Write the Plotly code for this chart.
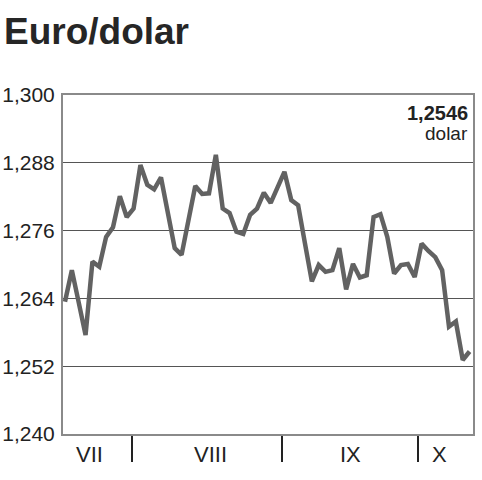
import plotly.graph_objects as go

# Daily euro/dollar rate (trading day index 0..59)
days = list(range(60))
rate = [1.2634, 1.2690, 1.2633, 1.2575, 1.2705, 1.2696, 1.2749, 1.2766, 1.2821, 1.2784,
        1.2799, 1.2876, 1.2841, 1.2833, 1.2854, 1.2792, 1.2729, 1.2717, 1.2778, 1.2839,
        1.2825, 1.2826, 1.2894, 1.2799, 1.2791, 1.2758, 1.2754, 1.2788, 1.2799, 1.2827,
        1.2809, 1.2837, 1.2864, 1.2814, 1.2805, 1.2737, 1.2670, 1.2699, 1.2687, 1.2690,
        1.2729, 1.2656, 1.2701, 1.2677, 1.2681, 1.2784, 1.2789, 1.2749, 1.2684, 1.2699,
        1.2701, 1.2678, 1.2737, 1.2724, 1.2713, 1.2690, 1.2590, 1.2599, 1.2531, 1.2546]

y_ticks = [1.240, 1.252, 1.264, 1.276, 1.288, 1.300]
y_tick_labels = ["1,240", "1,252", "1,264", "1,276", "1,288", "1,300"]

month_labels = ["VII", "VIII", "IX", "X"]
month_centers = [3.6, 21.2, 41.6, 54.6]
month_breaks = [9.7, 31.6, 51.5]

last_value_label = "1,2546"
unit_label = "dolar"

fig = go.Figure()
fig.add_trace(go.Scatter(
    x=days, y=rate, mode="lines",
    line=dict(color="#626262", width=4.5),
    hoverinfo="skip", showlegend=False,
))

fig.update_layout(
    width=482, height=480,
    margin=dict(l=63, r=9, t=95, b=46),
    paper_bgcolor="white", plot_bgcolor="white",
    font=dict(family="Liberation Sans, Arial, sans-serif", color="#222"),
    title=dict(text="<b>Euro/dolar</b>", x=4 / 482, xanchor="left", xref="container",
               y=1 - 31 / 480, yanchor="middle", yref="container",
               font=dict(size=37, color="#262626")),
    showlegend=False,
)

fig.update_xaxes(
    range=[-0.29, 59.5], automargin=False,
    showgrid=False, zeroline=False,
    showline=True, linecolor="#8a8a8a", linewidth=2, mirror=True,
    tickvals=month_breaks, ticks="outside", ticklen=26, tickwidth=1.5, tickcolor="#222",
    showticklabels=False,
)
fig.update_yaxes(
    range=[1.240, 1.300], automargin=False,
    tickvals=y_ticks, ticktext=y_tick_labels,
    showgrid=True, gridcolor="#555", gridwidth=1.3,
    zeroline=False,
    showline=True, linecolor="#8a8a8a", linewidth=2, mirror=True,
    ticks="", ticklabelstandoff=2,
    tickfont=dict(size=21, color="#222"),
)

for lab, cx in zip(month_labels, month_centers):
    fig.add_annotation(x=cx, y=-20 / 339, xref="x", yref="paper", text=lab,
                       showarrow=False, xanchor="center", yanchor="middle",
                       font=dict(size=22, color="#222"))

fig.add_annotation(x=1, y=1 - 18 / 339, xref="paper", yref="paper",
                   text="<b>" + last_value_label + "</b>", showarrow=False,
                   xanchor="right", yanchor="middle", xshift=-3,
                   font=dict(size=20, color="#222"))
fig.add_annotation(x=1, y=1 - 38 / 339, xref="paper", yref="paper",
                   text=unit_label, showarrow=False,
                   xanchor="right", yanchor="middle", xshift=-3,
                   font=dict(size=19, color="#222"))

fig.write_html("out.html", config={"displayModeBar": False},
               post_script="document.body.style.margin='0';document.body.style.overflow='hidden';")
